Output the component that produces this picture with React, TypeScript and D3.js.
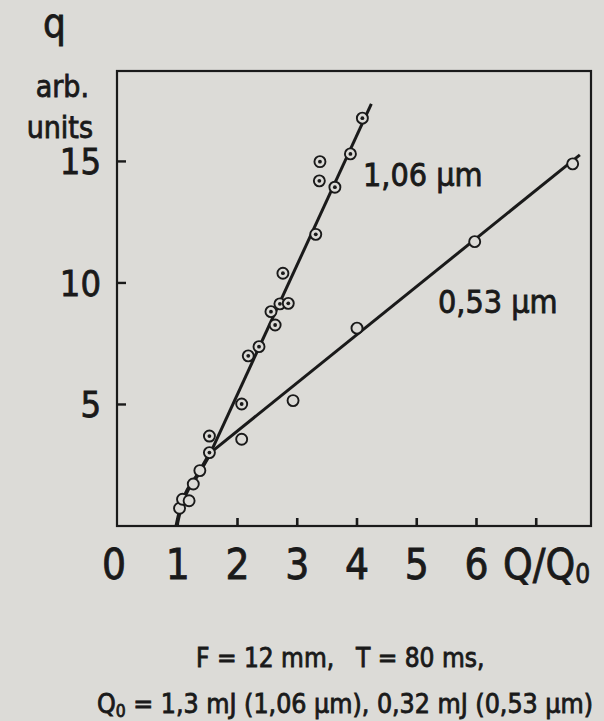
import React from 'react';
import * as d3 from 'd3';

// ---- data ----
const xTickValues = [1, 2, 3, 4, 5, 6, 7];
const xTickLabels = ['0', '1', '2', '3', '4', '5', '6'];
const xLabelValues = [0, 1, 2, 3, 4, 5, 6];
const yTickValues = [5, 10, 15];
const yTickLabels = ['5', '10', '15'];

// 1,06 μm series (dotted circles)
const dotX = [1.53, 1.53, 2.07, 2.18, 2.36, 2.56, 2.63, 2.71, 2.85, 2.76, 3.31, 3.37, 3.63, 3.38, 3.89, 4.09];
const dotY = [3.02, 3.70, 5.02, 7.0, 7.38, 8.82, 8.27, 9.14, 9.16, 10.40, 12.0, 14.2, 13.94, 14.99, 15.31, 16.78];

// 0,53 μm series (open circles)
const openX = [1.03, 1.08, 1.19, 1.26, 1.37, 2.07, 2.93, 4.0, 5.97, 7.61];
const openY = [0.73, 1.10, 1.04, 1.73, 2.28, 3.57, 5.16, 8.14, 11.70, 14.90];

// drawn curves
const baseCurveX = [0.98, 1.01, 1.07, 1.17, 1.32, 1.55];
const baseCurveY = [0, 0.35, 0.9, 1.5, 2.05, 3.02];
const line106X = [1.55, 4.24];
const line106Y = [3.02, 17.37];
const line053X = [1.55, 7.73];
const line053Y = [3.02, 15.27];

const W = 604;
const H = 721;
const BG = '#dcdbd7';
const INK = '#1a1a1a';
const FONT = '"DejaVu Sans", sans-serif';

export default function App() {
  const x = d3.scaleLinear().domain([0, 7.95]).range([118, 593]);
  const y = d3.scaleLinear().domain([0, 18.72]).range([526, 71]);

  const lineGen = d3
    .line<[number, number]>()
    .x((d) => x(d[0]))
    .y((d) => y(d[1]));
  const curveGen = d3
    .line<[number, number]>()
    .x((d) => x(d[0]))
    .y((d) => y(d[1]))
    .curve(d3.curveCatmullRom);

  const zip = (a: number[], b: number[]) => a.map((v, i) => [v, b[i]] as [number, number]);

  const frameL = 117;
  const frameR = 591;
  const frameT = 71;
  const frameB = 526;

  const textStyle = { fill: INK, stroke: INK, strokeWidth: 0.8 };

  return (
    <div style={{ position: 'absolute', left: 0, top: 0, width: W, height: H, background: BG }}>
      <svg width={W} height={H} style={{ display: 'block', fontFamily: FONT, fontStretch: 'condensed' }}>
        <rect x={0} y={0} width={W} height={H} fill={BG} />
        {/* frame */}
        <rect
          x={frameL}
          y={frameT}
          width={frameR - frameL}
          height={frameB - frameT}
          fill="none"
          stroke={INK}
          strokeWidth={2.2}
        />
        {/* y ticks (inward) */}
        {yTickValues.map((v) => (
          <line key={'yt' + v} x1={frameL} x2={frameL + 9} y1={y(v)} y2={y(v)} stroke={INK} strokeWidth={2.4} />
        ))}
        {/* x ticks (inward) */}
        {xTickValues.map((v) => (
          <line key={'xt' + v} x1={x(v)} x2={x(v)} y1={frameB} y2={frameB - 8} stroke={INK} strokeWidth={2.6} />
        ))}
        {/* y tick labels */}
        {yTickValues.map((v, i) => (
          <text key={'yl' + v} x={101} y={y(v) + 13} textAnchor="end" fontSize={36} {...textStyle}>
            {yTickLabels[i]}
          </text>
        ))}
        {/* x tick labels */}
        {xLabelValues.map((v, i) => (
          <text
            key={'xl' + v}
            x={x(v) - (v === 0 ? 4 : 0)}
            y={579}
            textAnchor="middle"
            fontSize={42}
            {...textStyle}
          >
            {xTickLabels[i]}
          </text>
        ))}
        {/* x axis title */}
        <text x={503} y={579} fontSize={42} {...textStyle}>
          Q/Q
          <tspan fontSize={26} dy={4}>
            0
          </tspan>
        </text>
        {/* y axis title */}
        <text x={43} y={37} fontSize={40} {...textStyle}>
          q
        </text>
        <text x={89} y={97} textAnchor="end" fontSize={30} {...textStyle}>
          arb.
        </text>
        <text x={93} y={138} textAnchor="end" fontSize={30} {...textStyle}>
          units
        </text>

        {/* fitted curves */}
        <path d={curveGen(zip(baseCurveX, baseCurveY)) || ''} fill="none" stroke={INK} strokeWidth={4} />
        <path d={lineGen(zip(line106X, line106Y)) || ''} fill="none" stroke={INK} strokeWidth={3} />
        <path d={lineGen(zip(line053X, line053Y)) || ''} fill="none" stroke={INK} strokeWidth={3} />

        {/* open circles */}
        {openX.map((v, i) => (
          <circle key={'o' + i} cx={x(v)} cy={y(openY[i])} r={5.5} fill={BG} stroke={INK} strokeWidth={1.9} />
        ))}
        {/* dotted circles */}
        {dotX.map((v, i) => (
          <g key={'d' + i}>
            <circle cx={x(v)} cy={y(dotY[i])} r={5.5} fill={BG} stroke={INK} strokeWidth={1.9} />
            <circle cx={x(v)} cy={y(dotY[i])} r={1.9} fill={INK} />
          </g>
        ))}

        {/* series labels */}
        <text x={363} y={186} fontSize={32} {...textStyle}>
          1,06 μm
        </text>
        <text x={438} y={313} fontSize={32} {...textStyle}>
          0,53 μm
        </text>

        {/* caption */}
        <text y={667} fontSize={26} {...textStyle}>
          <tspan x={196}>F = 12 mm,</tspan>
          <tspan x={356}>T = 80 ms,</tspan>
        </text>
        <text x={97} y={713} fontSize={26} {...textStyle} textLength={496} lengthAdjust="spacingAndGlyphs">
          Q<tspan fontSize={17} dy={4}>0</tspan>
          <tspan dy={-4}> = 1,3 mJ (1,06 μm), 0,32 mJ (0,53 μm)</tspan>
        </text>
      </svg>
    </div>
  );
}
